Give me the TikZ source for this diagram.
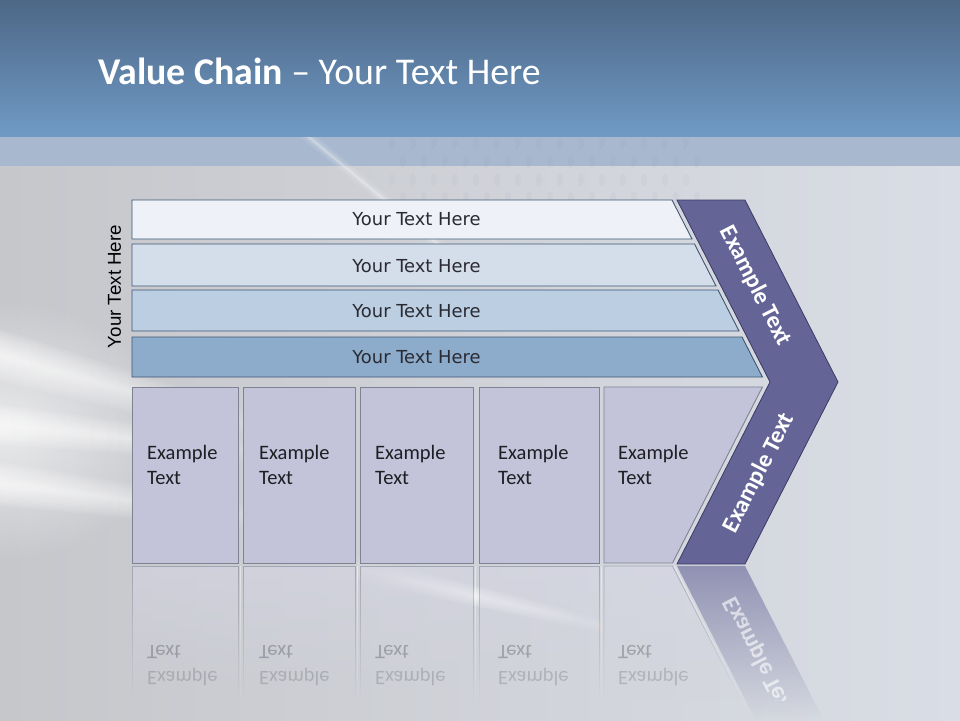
\documentclass[tikz,border=0pt]{standalone}
\usepackage{fontspec}
\setmainfont{Carlito}
\newfontfamily\barfont{DejaVu Sans}
\newfontfamily\sidefont{Liberation Sans}
\usetikzlibrary{fadings}
\definecolor{bgL}{HTML}{C6C7CB}
\definecolor{bgR}{HTML}{D9DDE5}
\definecolor{hdrT}{HTML}{4D6786}
\definecolor{hdrB}{HTML}{709AC5}
\definecolor{bandc}{HTML}{A8B8CF}
\definecolor{barA}{HTML}{EEF2F8}
\definecolor{barB}{HTML}{D4DEEB}
\definecolor{barC}{HTML}{BBCEE2}
\definecolor{barD}{HTML}{8DACCB}
\definecolor{barline}{HTML}{3E5672}
\definecolor{boxfill}{HTML}{C3C3D9}
\definecolor{boxline}{HTML}{7E8291}
\definecolor{chev}{HTML}{646497}
\definecolor{chevline}{HTML}{3B3B66}
\definecolor{txt}{HTML}{1E1E24}
\definecolor{bartxt}{HTML}{2A2A32}
\definecolor{dotc}{HTML}{7F8DA6}
\tikzfading[name=reflfade, top color=transparent!45, bottom color=transparent!100]
\tikzfading[name=chevfade, top color=transparent!40, bottom color=transparent!100]
\tikzfading[name=beamfade, left color=transparent!0, right color=transparent!100]
\tikzfading[name=midfade, left color=transparent!100, right color=transparent!100, middle color=transparent!0]
\tikzfading[name=glowfade, inner color=transparent!10, outer color=transparent!100]
% soft beam: start x, start y, end x, end y, half width, fading, opacity
\newcommand\softbeam[7]{%
  \foreach \k in {1,0.88,0.76,0.64,0.52,0.4,0.3,0.2,0.12}{%
    \fill[white, opacity=#7, path fading=#6]
      (#1,{#2-\k*#5}) -- (#3,{#4-\k*#5*0.5}) -- (#3,{#4+\k*#5*0.5}) -- (#1,{#2+\k*#5}) -- cycle;}}
\begin{document}
\begin{tikzpicture}[x=1pt,y=-1pt,
  barshape/.style={draw=barline, line width=0.9pt},
  bartext/.style={font=\barfont\fontsize{17.9}{22}\selectfont, text=bartxt, inner sep=0},
  boxshape/.style={fill=boxfill, draw=boxline, line width=0.9pt},
  boxtext/.style={font=\fontsize{20.5}{25}\selectfont, text=txt, anchor=base west, inner sep=0},
  chevtext/.style={font=\bfseries\fontsize{24}{28}\selectfont, text=white, inner sep=0},
]
\useasboundingbox (0,0) rectangle (960,720);
% background
\shade[left color=bgL, right color=bgR] (0,0) rectangle (960,720);
\shade[top color=hdrT, bottom color=hdrB] (0,0) rectangle (960,137);
\fill[bandc] (0,137) rectangle (960,166);
% light beams
\begin{scope}
  \clip (0,166) rectangle (960,720);
  \fill[white, path fading=glowfade, opacity=0.7] (0,430) ellipse [x radius=170, y radius=130];
  \softbeam{-5}{354}{320}{444}{26}{beamfade}{0.13}
  \softbeam{-5}{424}{320}{458}{20}{beamfade}{0.13}
  \softbeam{-5}{483}{320}{525}{22}{beamfade}{0.13}
  \softbeam{330}{562}{630}{632}{14}{midfade}{0.12}
\end{scope}
\begin{scope}
  \clip (0,137) rectangle (960,720);
  \foreach \w/\o in {12/0.06,8/0.08,5/0.1,2.5/0.14,1/0.2}{
    \draw[white, opacity=\o, line width=\w pt, line cap=round] (298,128) -- (440,246);}
\end{scope}
% perforated pattern
\foreach \i in {0,...,14}{\foreach \j in {0,...,3}{
  \fill[dotc, opacity=0.06] ({392+\i*21+11*mod(\j,2)},{144+\j*18}) ellipse [x radius=3, y radius=6.5];
  \fill[white, opacity=0.1] ({393.5+\i*21+11*mod(\j,2)},{148+\j*18}) circle [radius=1.2];
}}
% title
\node[anchor=base west, text=white, inner sep=0, font=\fontsize{37.8}{40}\selectfont] (title) at (98,84.5) {\textbf{Value Chain} – Your Text Here};
% side label
\node[rotate=90, font=\sidefont\fontsize{18.7}{20}\selectfont, text=black, inner sep=0] (side) at (114.5,286.5) {Your Text Here};
% bars
\fill[barA, barshape] (132,200) -- (672,200) -- (692,239) -- (132,239) -- cycle;
\fill[barB, barshape] (132,244) -- (694.5,244) -- (716,286) -- (132,286) -- cycle;
\fill[barC, barshape] (132,290) -- (718,290) -- (739,331) -- (132,331) -- cycle;
\fill[barD, barshape] (132,337) -- (742,337) -- (762.4,377) -- (132,377) -- cycle;
\node[bartext] (b1) at (416.5,219.5) {Your Text Here};
\node[bartext] (b2) at (416.5,266) {Your Text Here};
\node[bartext] (b3) at (416.5,311) {Your Text Here};
\node[bartext] (b4) at (416.5,357) {Your Text Here};
% boxes
\filldraw[boxshape] (132,387) rectangle (238,563);
\filldraw[boxshape] (243,387) rectangle (355,563);
\filldraw[boxshape] (360,387) rectangle (473,563);
\filldraw[boxshape] (479,387) rectangle (599,563);
\filldraw[boxshape] (604,387) -- (762.4,387) -- (672.5,563) -- (604,563) -- cycle;
\node[boxtext] (e1a) at (147,459) {Example};
\node[boxtext] (e1b) at (147,484.5) {Text};
\node[boxtext] (e2a) at (259,459) {Example};
\node[boxtext] (e2b) at (259,484.5) {Text};
\node[boxtext] (e3a) at (375,459) {Example};
\node[boxtext] (e3b) at (375,484.5) {Text};
\node[boxtext] (e4a) at (498,459) {Example};
\node[boxtext] (e4b) at (498,484.5) {Text};
\node[boxtext] (e5a) at (618,459) {Example};
\node[boxtext] (e5b) at (618,484.5) {Text};
% chevron
\filldraw[fill=chev, draw=chevline, line width=0.8pt] (677,200) -- (745,200) -- (838,382) -- (745,564) -- (677,564) -- (770,382) -- cycle;
\node[chevtext, rotate=-62.9] (c1) at (755.5,286) {Example Text};
\node[chevtext, rotate=62.9] (c2) at (759,473) {Example Text};
% reflections
\foreach \a/\b in {132/238,243/355,360/473,479/599}{
  \fill[boxfill!70!white, path fading=reflfade] (\a,566) rectangle (\b,700);
  \draw[boxline, path fading=reflfade, line width=0.8pt] (\a,700) -- (\a,566) -- (\b,566) -- (\b,700);
}
\foreach \s in {0,...,6}{
  \foreach \b in {238,355,473,599}{
    \fill[white, opacity={0.45*(1-\s/7)}] (\b+1.8,566+\s*19) rectangle (\b+3.4,585+\s*19);
  }
}
\fill[boxfill!70!white, path fading=reflfade] (604,566) -- (672.5,566) -- (741,700) -- (604,700) -- cycle;
\draw[boxline, path fading=reflfade, line width=0.8pt] (604,700) -- (604,566) -- (672.5,566) -- (741,700);
\fill[chev, path fading=chevfade] (677,566) -- (745,566) -- (823.7,720) -- (755.7,720) -- cycle;
\draw[white, opacity=0.6, line width=1.5pt, path fading=chevfade] (674,566) -- (752.7,720);
\begin{scope}
  \clip (0,566) rectangle (960,700);
  \begin{scope}[shift={(0,1130)}, yscale=-1]
    \node[boxtext, transform shape, opacity=0.18] (r1a) at (147,459) {Example};
    \node[boxtext, transform shape, opacity=0.28] (r1b) at (147,484.5) {Text};
    \node[boxtext, transform shape, opacity=0.18] (r2a) at (259,459) {Example};
    \node[boxtext, transform shape, opacity=0.28] (r2b) at (259,484.5) {Text};
    \node[boxtext, transform shape, opacity=0.18] (r3a) at (375,459) {Example};
    \node[boxtext, transform shape, opacity=0.28] (r3b) at (375,484.5) {Text};
    \node[boxtext, transform shape, opacity=0.18] (r4a) at (498,459) {Example};
    \node[boxtext, transform shape, opacity=0.28] (r4b) at (498,484.5) {Text};
    \node[boxtext, transform shape, opacity=0.18] (r5a) at (618,459) {Example};
    \node[boxtext, transform shape, opacity=0.28] (r5b) at (618,484.5) {Text};
    \node[chevtext, rotate=62.9, transform shape, opacity=0.6] (rc2) at (759,473) {Example Text};
  \end{scope}
\end{scope}
\end{tikzpicture}
\end{document}
